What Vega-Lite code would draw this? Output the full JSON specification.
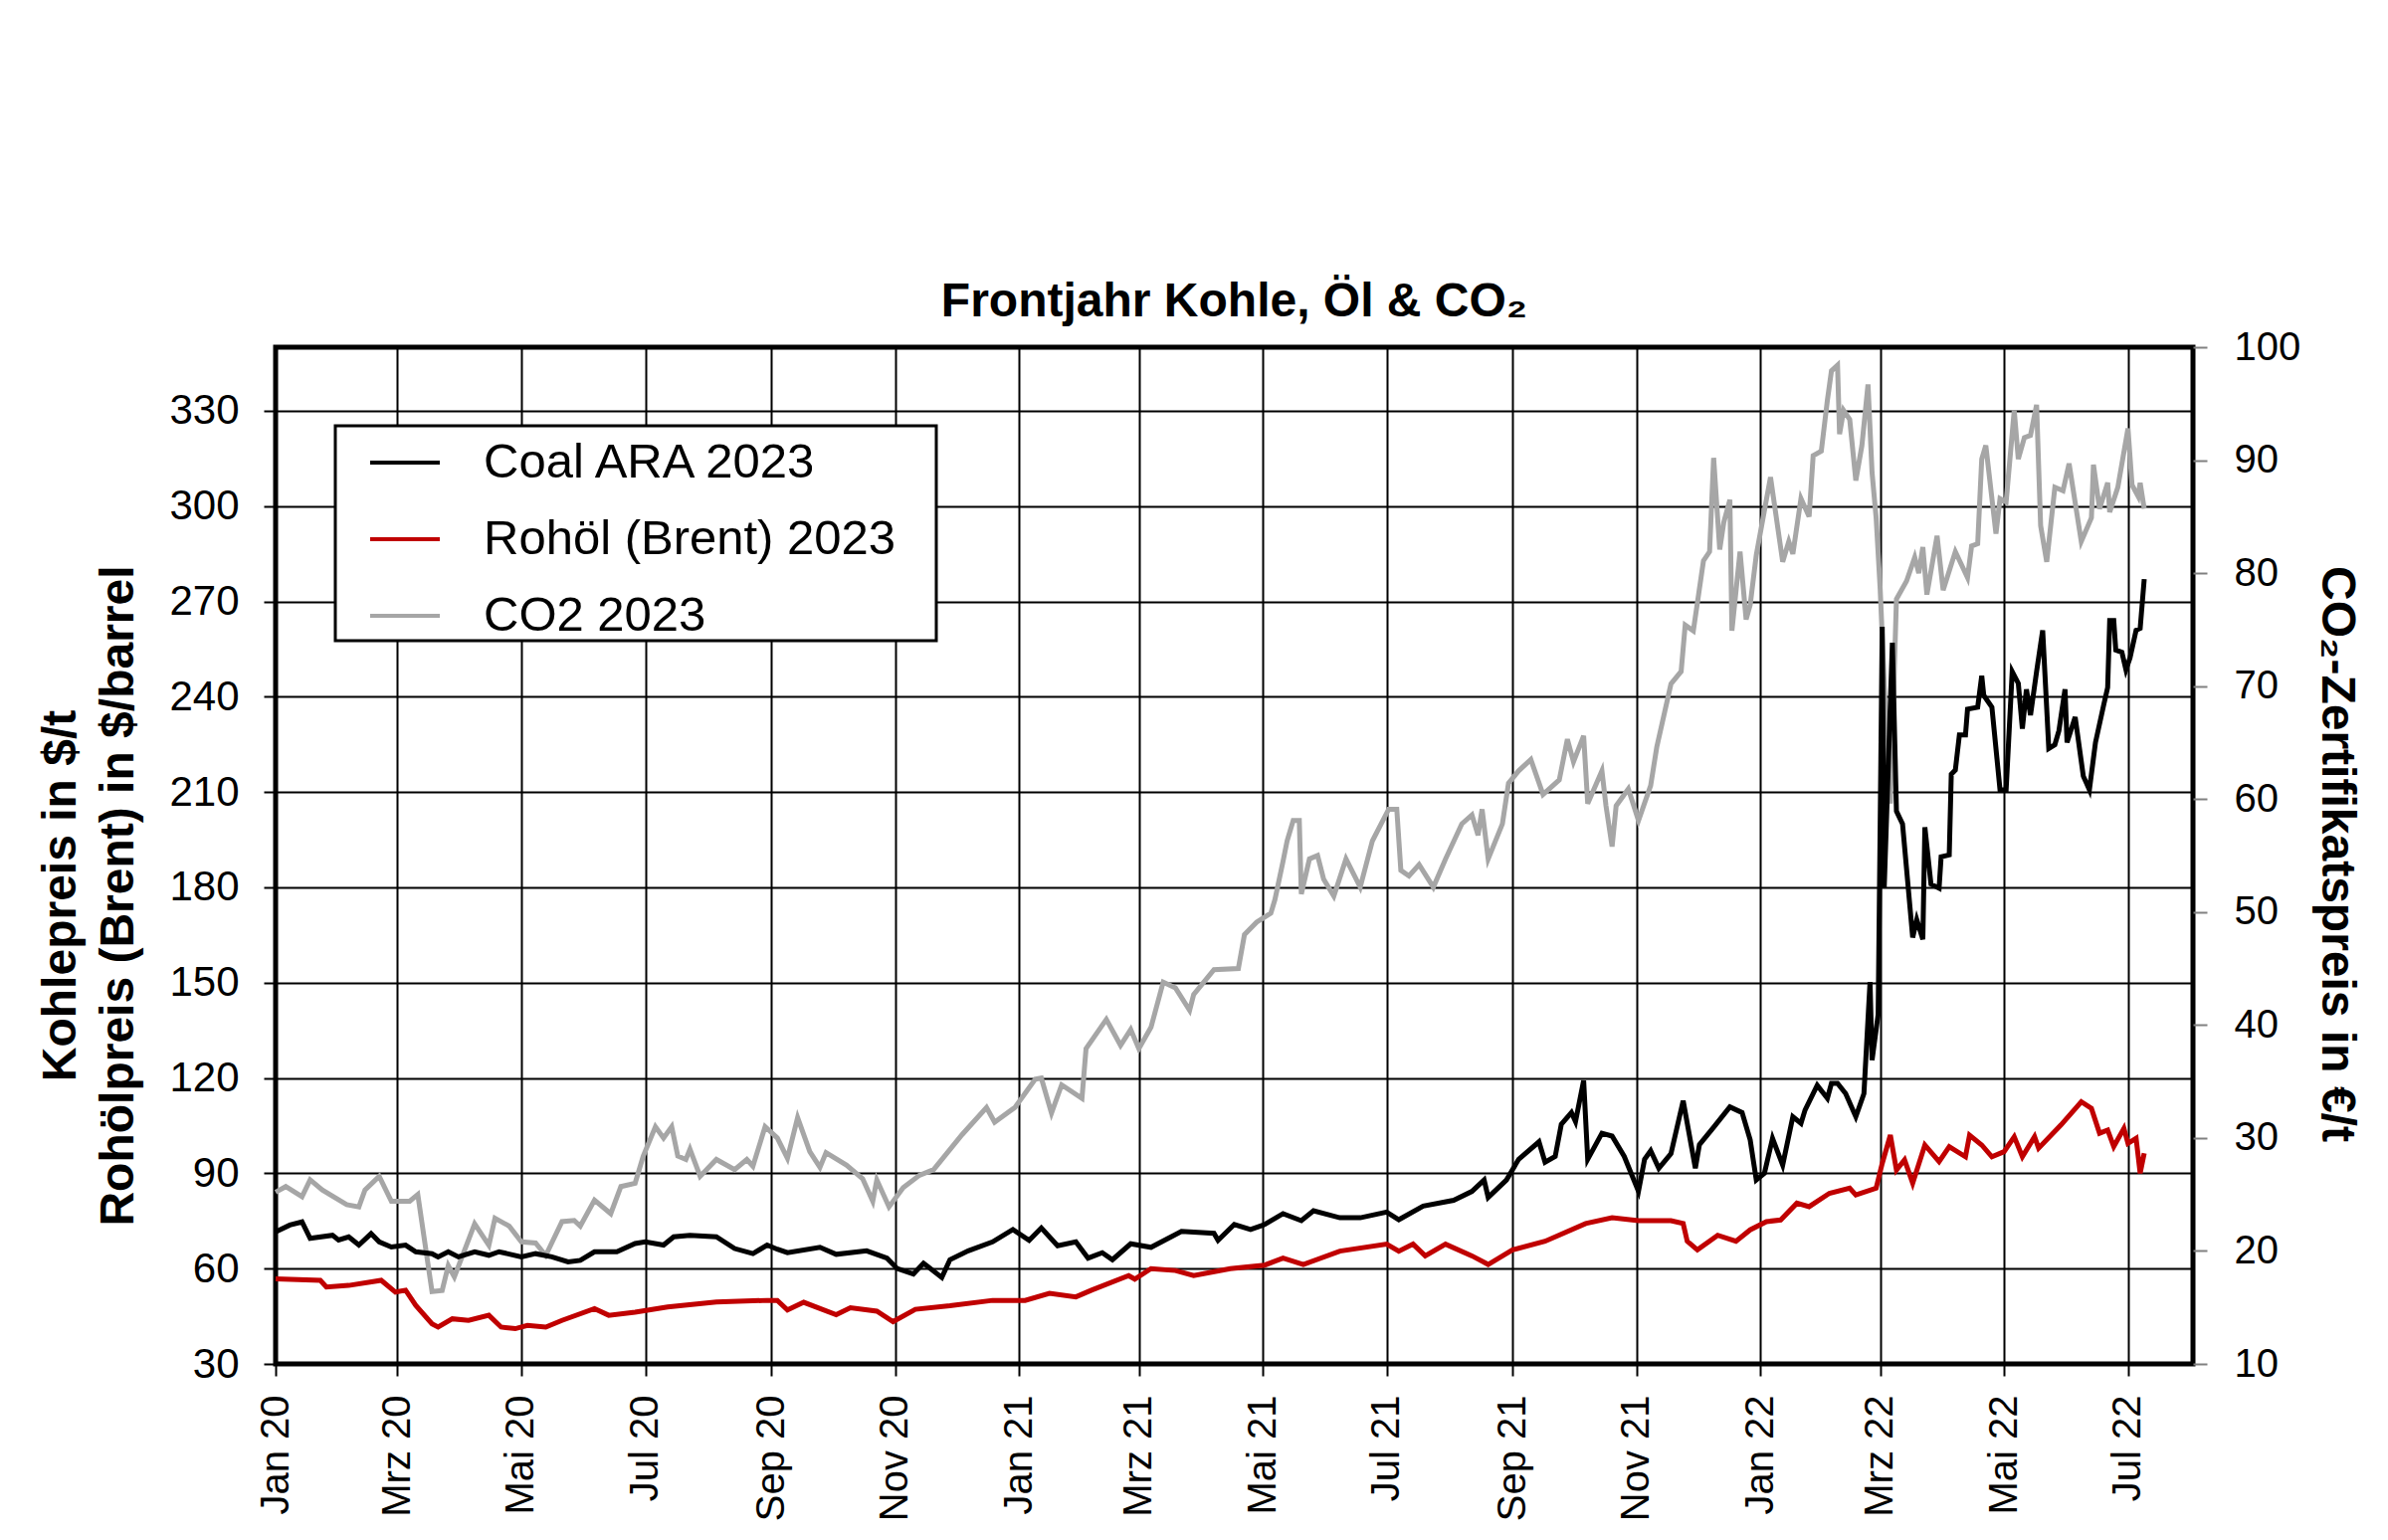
{
  "$schema": "https://vega.github.io/schema/vega-lite/v6.json",
  "width": 1927,
  "height": 1022,
  "autosize": {"type": "none"},
  "padding": {"left": 277, "top": 349, "right": 196, "bottom": 177},
  "background": "white",
  "title": {
    "text": "Frontjahr Kohle, Öl & CO₂",
    "fontSize": 48,
    "fontWeight": "bold",
    "font": "Liberation Sans",
    "color": "black",
    "anchor": "middle",
    "baseline": "alphabetic",
    "offset": 12,
    "dy": 49
  },
  "data": {
    "values": [
      {"d": "2020-01-01", "s": "Coal ARA 2023", "v": 71.6},
      {"d": "2020-01-08", "s": "Coal ARA 2023", "v": 73.7},
      {"d": "2020-01-14", "s": "Coal ARA 2023", "v": 74.7},
      {"d": "2020-01-18", "s": "Coal ARA 2023", "v": 69.5},
      {"d": "2020-01-29", "s": "Coal ARA 2023", "v": 70.5},
      {"d": "2020-02-01", "s": "Coal ARA 2023", "v": 69},
      {"d": "2020-02-06", "s": "Coal ARA 2023", "v": 70},
      {"d": "2020-02-11", "s": "Coal ARA 2023", "v": 67.4},
      {"d": "2020-02-17", "s": "Coal ARA 2023", "v": 71},
      {"d": "2020-02-21", "s": "Coal ARA 2023", "v": 68.4},
      {"d": "2020-02-27", "s": "Coal ARA 2023", "v": 66.8},
      {"d": "2020-03-05", "s": "Coal ARA 2023", "v": 67.4},
      {"d": "2020-03-10", "s": "Coal ARA 2023", "v": 65.3},
      {"d": "2020-03-18", "s": "Coal ARA 2023", "v": 64.7},
      {"d": "2020-03-21", "s": "Coal ARA 2023", "v": 63.7},
      {"d": "2020-03-26", "s": "Coal ARA 2023", "v": 65.3},
      {"d": "2020-03-31", "s": "Coal ARA 2023", "v": 63.7},
      {"d": "2020-04-08", "s": "Coal ARA 2023", "v": 65.3},
      {"d": "2020-04-15", "s": "Coal ARA 2023", "v": 64.2},
      {"d": "2020-04-20", "s": "Coal ARA 2023", "v": 65.3},
      {"d": "2020-05-01", "s": "Coal ARA 2023", "v": 63.7},
      {"d": "2020-05-08", "s": "Coal ARA 2023", "v": 64.7},
      {"d": "2020-05-16", "s": "Coal ARA 2023", "v": 63.7},
      {"d": "2020-05-24", "s": "Coal ARA 2023", "v": 62.1},
      {"d": "2020-05-30", "s": "Coal ARA 2023", "v": 62.6},
      {"d": "2020-06-06", "s": "Coal ARA 2023", "v": 65.3},
      {"d": "2020-06-17", "s": "Coal ARA 2023", "v": 65.3},
      {"d": "2020-06-26", "s": "Coal ARA 2023", "v": 67.9},
      {"d": "2020-07-01", "s": "Coal ARA 2023", "v": 68.4},
      {"d": "2020-07-10", "s": "Coal ARA 2023", "v": 67.4},
      {"d": "2020-07-15", "s": "Coal ARA 2023", "v": 70},
      {"d": "2020-07-23", "s": "Coal ARA 2023", "v": 70.5},
      {"d": "2020-08-05", "s": "Coal ARA 2023", "v": 70},
      {"d": "2020-08-14", "s": "Coal ARA 2023", "v": 66.3},
      {"d": "2020-08-23", "s": "Coal ARA 2023", "v": 64.7},
      {"d": "2020-08-30", "s": "Coal ARA 2023", "v": 67.4},
      {"d": "2020-09-04", "s": "Coal ARA 2023", "v": 66.1},
      {"d": "2020-09-09", "s": "Coal ARA 2023", "v": 65},
      {"d": "2020-09-25", "s": "Coal ARA 2023", "v": 66.7},
      {"d": "2020-10-03", "s": "Coal ARA 2023", "v": 64.5},
      {"d": "2020-10-18", "s": "Coal ARA 2023", "v": 65.6},
      {"d": "2020-10-28", "s": "Coal ARA 2023", "v": 63.3},
      {"d": "2020-11-02", "s": "Coal ARA 2023", "v": 60},
      {"d": "2020-11-10", "s": "Coal ARA 2023", "v": 58.3},
      {"d": "2020-11-15", "s": "Coal ARA 2023", "v": 61.7},
      {"d": "2020-11-24", "s": "Coal ARA 2023", "v": 57.2},
      {"d": "2020-11-28", "s": "Coal ARA 2023", "v": 62.8},
      {"d": "2020-12-07", "s": "Coal ARA 2023", "v": 65.6},
      {"d": "2020-12-19", "s": "Coal ARA 2023", "v": 68.4},
      {"d": "2020-12-29", "s": "Coal ARA 2023", "v": 72.3},
      {"d": "2021-01-06", "s": "Coal ARA 2023", "v": 68.9},
      {"d": "2021-01-12", "s": "Coal ARA 2023", "v": 72.8},
      {"d": "2021-01-20", "s": "Coal ARA 2023", "v": 67.2},
      {"d": "2021-01-29", "s": "Coal ARA 2023", "v": 68.4},
      {"d": "2021-02-04", "s": "Coal ARA 2023", "v": 63.3},
      {"d": "2021-02-11", "s": "Coal ARA 2023", "v": 65},
      {"d": "2021-02-16", "s": "Coal ARA 2023", "v": 62.8},
      {"d": "2021-02-25", "s": "Coal ARA 2023", "v": 67.8},
      {"d": "2021-03-07", "s": "Coal ARA 2023", "v": 66.7},
      {"d": "2021-03-22", "s": "Coal ARA 2023", "v": 71.7},
      {"d": "2021-04-07", "s": "Coal ARA 2023", "v": 71.1},
      {"d": "2021-04-09", "s": "Coal ARA 2023", "v": 68.9},
      {"d": "2021-04-17", "s": "Coal ARA 2023", "v": 73.9},
      {"d": "2021-04-25", "s": "Coal ARA 2023", "v": 72.3},
      {"d": "2021-05-02", "s": "Coal ARA 2023", "v": 73.9},
      {"d": "2021-05-11", "s": "Coal ARA 2023", "v": 77.3},
      {"d": "2021-05-20", "s": "Coal ARA 2023", "v": 75.1},
      {"d": "2021-05-26", "s": "Coal ARA 2023", "v": 78.2},
      {"d": "2021-06-08", "s": "Coal ARA 2023", "v": 76},
      {"d": "2021-06-18", "s": "Coal ARA 2023", "v": 76},
      {"d": "2021-07-01", "s": "Coal ARA 2023", "v": 77.8},
      {"d": "2021-07-07", "s": "Coal ARA 2023", "v": 75.4},
      {"d": "2021-07-19", "s": "Coal ARA 2023", "v": 79.7},
      {"d": "2021-08-03", "s": "Coal ARA 2023", "v": 81.5},
      {"d": "2021-08-12", "s": "Coal ARA 2023", "v": 84.3},
      {"d": "2021-08-18", "s": "Coal ARA 2023", "v": 87.9},
      {"d": "2021-08-20", "s": "Coal ARA 2023", "v": 82.4},
      {"d": "2021-08-29", "s": "Coal ARA 2023", "v": 87.9},
      {"d": "2021-09-04", "s": "Coal ARA 2023", "v": 94.4},
      {"d": "2021-09-14", "s": "Coal ARA 2023", "v": 99.9},
      {"d": "2021-09-17", "s": "Coal ARA 2023", "v": 93.5},
      {"d": "2021-09-22", "s": "Coal ARA 2023", "v": 95.3},
      {"d": "2021-09-25", "s": "Coal ARA 2023", "v": 105.4},
      {"d": "2021-09-30", "s": "Coal ARA 2023", "v": 109.1},
      {"d": "2021-10-02", "s": "Coal ARA 2023", "v": 106.3},
      {"d": "2021-10-06", "s": "Coal ARA 2023", "v": 119.2},
      {"d": "2021-10-08", "s": "Coal ARA 2023", "v": 94.4},
      {"d": "2021-10-15", "s": "Coal ARA 2023", "v": 102.6},
      {"d": "2021-10-20", "s": "Coal ARA 2023", "v": 101.7},
      {"d": "2021-10-26", "s": "Coal ARA 2023", "v": 95.3},
      {"d": "2021-11-02", "s": "Coal ARA 2023", "v": 84.3},
      {"d": "2021-11-05", "s": "Coal ARA 2023", "v": 94.4},
      {"d": "2021-11-08", "s": "Coal ARA 2023", "v": 97.1},
      {"d": "2021-11-12", "s": "Coal ARA 2023", "v": 91.6},
      {"d": "2021-11-18", "s": "Coal ARA 2023", "v": 96.2},
      {"d": "2021-11-24", "s": "Coal ARA 2023", "v": 112.8},
      {"d": "2021-11-30", "s": "Coal ARA 2023", "v": 91.6},
      {"d": "2021-12-02", "s": "Coal ARA 2023", "v": 99},
      {"d": "2021-12-09", "s": "Coal ARA 2023", "v": 104.5},
      {"d": "2021-12-17", "s": "Coal ARA 2023", "v": 110.9},
      {"d": "2021-12-23", "s": "Coal ARA 2023", "v": 109.1},
      {"d": "2021-12-27", "s": "Coal ARA 2023", "v": 100.5},
      {"d": "2021-12-30", "s": "Coal ARA 2023", "v": 87.9},
      {"d": "2022-01-03", "s": "Coal ARA 2023", "v": 90},
      {"d": "2022-01-07", "s": "Coal ARA 2023", "v": 101},
      {"d": "2022-01-12", "s": "Coal ARA 2023", "v": 92.6},
      {"d": "2022-01-17", "s": "Coal ARA 2023", "v": 107.8},
      {"d": "2022-01-21", "s": "Coal ARA 2023", "v": 105.7},
      {"d": "2022-01-23", "s": "Coal ARA 2023", "v": 109.9},
      {"d": "2022-01-29", "s": "Coal ARA 2023", "v": 117.7},
      {"d": "2022-02-03", "s": "Coal ARA 2023", "v": 113.6},
      {"d": "2022-02-05", "s": "Coal ARA 2023", "v": 118.3},
      {"d": "2022-02-08", "s": "Coal ARA 2023", "v": 118.3},
      {"d": "2022-02-12", "s": "Coal ARA 2023", "v": 115.1},
      {"d": "2022-02-17", "s": "Coal ARA 2023", "v": 107.8},
      {"d": "2022-02-21", "s": "Coal ARA 2023", "v": 115.1},
      {"d": "2022-02-24", "s": "Coal ARA 2023", "v": 150.2},
      {"d": "2022-02-25", "s": "Coal ARA 2023", "v": 125.6},
      {"d": "2022-02-28", "s": "Coal ARA 2023", "v": 140},
      {"d": "2022-03-01", "s": "Coal ARA 2023", "v": 200},
      {"d": "2022-03-02", "s": "Coal ARA 2023", "v": 262},
      {"d": "2022-03-03", "s": "Coal ARA 2023", "v": 180},
      {"d": "2022-03-07", "s": "Coal ARA 2023", "v": 257},
      {"d": "2022-03-09", "s": "Coal ARA 2023", "v": 204},
      {"d": "2022-03-12", "s": "Coal ARA 2023", "v": 200},
      {"d": "2022-03-17", "s": "Coal ARA 2023", "v": 164.2},
      {"d": "2022-03-19", "s": "Coal ARA 2023", "v": 169.8},
      {"d": "2022-03-22", "s": "Coal ARA 2023", "v": 163.6},
      {"d": "2022-03-23", "s": "Coal ARA 2023", "v": 198.9},
      {"d": "2022-03-26", "s": "Coal ARA 2023", "v": 181},
      {"d": "2022-03-30", "s": "Coal ARA 2023", "v": 179.7},
      {"d": "2022-03-31", "s": "Coal ARA 2023", "v": 189.6},
      {"d": "2022-04-04", "s": "Coal ARA 2023", "v": 190.2},
      {"d": "2022-04-05", "s": "Coal ARA 2023", "v": 215.6},
      {"d": "2022-04-07", "s": "Coal ARA 2023", "v": 216.9},
      {"d": "2022-04-09", "s": "Coal ARA 2023", "v": 228},
      {"d": "2022-04-12", "s": "Coal ARA 2023", "v": 228},
      {"d": "2022-04-13", "s": "Coal ARA 2023", "v": 236.1},
      {"d": "2022-04-18", "s": "Coal ARA 2023", "v": 236.7},
      {"d": "2022-04-20", "s": "Coal ARA 2023", "v": 246.6},
      {"d": "2022-04-21", "s": "Coal ARA 2023", "v": 240.4},
      {"d": "2022-04-25", "s": "Coal ARA 2023", "v": 236.7},
      {"d": "2022-04-29", "s": "Coal ARA 2023", "v": 210.7},
      {"d": "2022-05-02", "s": "Coal ARA 2023", "v": 210.7},
      {"d": "2022-05-05", "s": "Coal ARA 2023", "v": 247.9},
      {"d": "2022-05-08", "s": "Coal ARA 2023", "v": 244.2},
      {"d": "2022-05-10", "s": "Coal ARA 2023", "v": 229.9},
      {"d": "2022-05-12", "s": "Coal ARA 2023", "v": 242.3},
      {"d": "2022-05-14", "s": "Coal ARA 2023", "v": 234.2},
      {"d": "2022-05-17", "s": "Coal ARA 2023", "v": 247.9},
      {"d": "2022-05-20", "s": "Coal ARA 2023", "v": 260.9},
      {"d": "2022-05-23", "s": "Coal ARA 2023", "v": 223.7},
      {"d": "2022-05-26", "s": "Coal ARA 2023", "v": 224.9},
      {"d": "2022-05-28", "s": "Coal ARA 2023", "v": 229.3},
      {"d": "2022-05-31", "s": "Coal ARA 2023", "v": 242.3},
      {"d": "2022-06-01", "s": "Coal ARA 2023", "v": 225.6},
      {"d": "2022-06-05", "s": "Coal ARA 2023", "v": 233.6},
      {"d": "2022-06-09", "s": "Coal ARA 2023", "v": 215},
      {"d": "2022-06-12", "s": "Coal ARA 2023", "v": 210.7},
      {"d": "2022-06-15", "s": "Coal ARA 2023", "v": 225.6},
      {"d": "2022-06-19", "s": "Coal ARA 2023", "v": 237.3},
      {"d": "2022-06-21", "s": "Coal ARA 2023", "v": 242.9},
      {"d": "2022-06-22", "s": "Coal ARA 2023", "v": 264},
      {"d": "2022-06-24", "s": "Coal ARA 2023", "v": 264},
      {"d": "2022-06-25", "s": "Coal ARA 2023", "v": 254.7},
      {"d": "2022-06-28", "s": "Coal ARA 2023", "v": 254},
      {"d": "2022-06-30", "s": "Coal ARA 2023", "v": 248.5},
      {"d": "2022-07-02", "s": "Coal ARA 2023", "v": 252.2},
      {"d": "2022-07-05", "s": "Coal ARA 2023", "v": 260.9},
      {"d": "2022-07-07", "s": "Coal ARA 2023", "v": 261.5},
      {"d": "2022-07-09", "s": "Coal ARA 2023", "v": 277},

      {"d": "2020-01-01", "s": "Rohöl (Brent) 2023", "v": 56.8},
      {"d": "2020-01-23", "s": "Rohöl (Brent) 2023", "v": 56.3},
      {"d": "2020-01-26", "s": "Rohöl (Brent) 2023", "v": 54.2},
      {"d": "2020-02-06", "s": "Rohöl (Brent) 2023", "v": 54.7},
      {"d": "2020-02-22", "s": "Rohöl (Brent) 2023", "v": 56.3},
      {"d": "2020-02-29", "s": "Rohöl (Brent) 2023", "v": 52.6},
      {"d": "2020-03-05", "s": "Rohöl (Brent) 2023", "v": 53.2},
      {"d": "2020-03-10", "s": "Rohöl (Brent) 2023", "v": 48.4},
      {"d": "2020-03-18", "s": "Rohöl (Brent) 2023", "v": 42.6},
      {"d": "2020-03-21", "s": "Rohöl (Brent) 2023", "v": 41.6},
      {"d": "2020-03-28", "s": "Rohöl (Brent) 2023", "v": 44.2},
      {"d": "2020-04-05", "s": "Rohöl (Brent) 2023", "v": 43.7},
      {"d": "2020-04-15", "s": "Rohöl (Brent) 2023", "v": 45.3},
      {"d": "2020-04-21", "s": "Rohöl (Brent) 2023", "v": 41.6},
      {"d": "2020-04-28", "s": "Rohöl (Brent) 2023", "v": 41.1},
      {"d": "2020-05-04", "s": "Rohöl (Brent) 2023", "v": 42.1},
      {"d": "2020-05-13", "s": "Rohöl (Brent) 2023", "v": 41.6},
      {"d": "2020-05-21", "s": "Rohöl (Brent) 2023", "v": 43.7},
      {"d": "2020-06-06", "s": "Rohöl (Brent) 2023", "v": 47.4},
      {"d": "2020-06-13", "s": "Rohöl (Brent) 2023", "v": 45.3},
      {"d": "2020-06-26", "s": "Rohöl (Brent) 2023", "v": 46.3},
      {"d": "2020-07-12", "s": "Rohöl (Brent) 2023", "v": 47.9},
      {"d": "2020-08-05", "s": "Rohöl (Brent) 2023", "v": 49.5},
      {"d": "2020-08-30", "s": "Rohöl (Brent) 2023", "v": 50},
      {"d": "2020-09-04", "s": "Rohöl (Brent) 2023", "v": 50},
      {"d": "2020-09-09", "s": "Rohöl (Brent) 2023", "v": 47},
      {"d": "2020-09-17", "s": "Rohöl (Brent) 2023", "v": 49.4},
      {"d": "2020-10-03", "s": "Rohöl (Brent) 2023", "v": 45.5},
      {"d": "2020-10-10", "s": "Rohöl (Brent) 2023", "v": 47.7},
      {"d": "2020-10-23", "s": "Rohöl (Brent) 2023", "v": 46.6},
      {"d": "2020-10-31", "s": "Rohöl (Brent) 2023", "v": 43.3},
      {"d": "2020-11-11", "s": "Rohöl (Brent) 2023", "v": 47.2},
      {"d": "2020-11-28", "s": "Rohöl (Brent) 2023", "v": 48.3},
      {"d": "2020-12-19", "s": "Rohöl (Brent) 2023", "v": 50},
      {"d": "2021-01-04", "s": "Rohöl (Brent) 2023", "v": 50},
      {"d": "2021-01-16", "s": "Rohöl (Brent) 2023", "v": 52.2},
      {"d": "2021-01-29", "s": "Rohöl (Brent) 2023", "v": 51.1},
      {"d": "2021-02-06", "s": "Rohöl (Brent) 2023", "v": 53.3},
      {"d": "2021-02-24", "s": "Rohöl (Brent) 2023", "v": 57.8},
      {"d": "2021-02-27", "s": "Rohöl (Brent) 2023", "v": 56.7},
      {"d": "2021-03-07", "s": "Rohöl (Brent) 2023", "v": 60},
      {"d": "2021-03-19", "s": "Rohöl (Brent) 2023", "v": 59.4},
      {"d": "2021-03-28", "s": "Rohöl (Brent) 2023", "v": 57.8},
      {"d": "2021-04-15", "s": "Rohöl (Brent) 2023", "v": 60},
      {"d": "2021-05-02", "s": "Rohöl (Brent) 2023", "v": 61.1},
      {"d": "2021-05-11", "s": "Rohöl (Brent) 2023", "v": 63.3},
      {"d": "2021-05-21", "s": "Rohöl (Brent) 2023", "v": 61.3},
      {"d": "2021-06-08", "s": "Rohöl (Brent) 2023", "v": 65.5},
      {"d": "2021-07-01", "s": "Rohöl (Brent) 2023", "v": 67.7},
      {"d": "2021-07-07", "s": "Rohöl (Brent) 2023", "v": 65.5},
      {"d": "2021-07-14", "s": "Rohöl (Brent) 2023", "v": 67.7},
      {"d": "2021-07-20", "s": "Rohöl (Brent) 2023", "v": 64},
      {"d": "2021-07-30", "s": "Rohöl (Brent) 2023", "v": 67.7},
      {"d": "2021-08-12", "s": "Rohöl (Brent) 2023", "v": 64},
      {"d": "2021-08-20", "s": "Rohöl (Brent) 2023", "v": 61.3},
      {"d": "2021-09-01", "s": "Rohöl (Brent) 2023", "v": 65.9},
      {"d": "2021-09-17", "s": "Rohöl (Brent) 2023", "v": 68.6},
      {"d": "2021-10-07", "s": "Rohöl (Brent) 2023", "v": 74.2},
      {"d": "2021-10-20", "s": "Rohöl (Brent) 2023", "v": 76},
      {"d": "2021-11-02", "s": "Rohöl (Brent) 2023", "v": 75.1},
      {"d": "2021-11-18", "s": "Rohöl (Brent) 2023", "v": 75.1},
      {"d": "2021-11-24", "s": "Rohöl (Brent) 2023", "v": 74.2},
      {"d": "2021-11-26", "s": "Rohöl (Brent) 2023", "v": 68.6},
      {"d": "2021-12-01", "s": "Rohöl (Brent) 2023", "v": 65.9},
      {"d": "2021-12-11", "s": "Rohöl (Brent) 2023", "v": 70.5},
      {"d": "2021-12-20", "s": "Rohöl (Brent) 2023", "v": 68.6},
      {"d": "2021-12-27", "s": "Rohöl (Brent) 2023", "v": 72.2},
      {"d": "2022-01-04", "s": "Rohöl (Brent) 2023", "v": 74.8},
      {"d": "2022-01-11", "s": "Rohöl (Brent) 2023", "v": 75.3},
      {"d": "2022-01-19", "s": "Rohöl (Brent) 2023", "v": 80.6},
      {"d": "2022-01-25", "s": "Rohöl (Brent) 2023", "v": 79.5},
      {"d": "2022-02-04", "s": "Rohöl (Brent) 2023", "v": 83.7},
      {"d": "2022-02-14", "s": "Rohöl (Brent) 2023", "v": 85.3},
      {"d": "2022-02-17", "s": "Rohöl (Brent) 2023", "v": 83.2},
      {"d": "2022-02-27", "s": "Rohöl (Brent) 2023", "v": 85.3},
      {"d": "2022-03-02", "s": "Rohöl (Brent) 2023", "v": 93.1},
      {"d": "2022-03-06", "s": "Rohöl (Brent) 2023", "v": 102},
      {"d": "2022-03-09", "s": "Rohöl (Brent) 2023", "v": 91},
      {"d": "2022-03-13", "s": "Rohöl (Brent) 2023", "v": 94.2},
      {"d": "2022-03-17", "s": "Rohöl (Brent) 2023", "v": 86.9},
      {"d": "2022-03-23", "s": "Rohöl (Brent) 2023", "v": 98.9},
      {"d": "2022-03-30", "s": "Rohöl (Brent) 2023", "v": 93.7},
      {"d": "2022-04-04", "s": "Rohöl (Brent) 2023", "v": 98.4},
      {"d": "2022-04-12", "s": "Rohöl (Brent) 2023", "v": 95.2},
      {"d": "2022-04-14", "s": "Rohöl (Brent) 2023", "v": 102},
      {"d": "2022-04-20", "s": "Rohöl (Brent) 2023", "v": 98.9},
      {"d": "2022-04-25", "s": "Rohöl (Brent) 2023", "v": 95.2},
      {"d": "2022-05-01", "s": "Rohöl (Brent) 2023", "v": 96.8},
      {"d": "2022-05-06", "s": "Rohöl (Brent) 2023", "v": 101.5},
      {"d": "2022-05-10", "s": "Rohöl (Brent) 2023", "v": 95.2},
      {"d": "2022-05-16", "s": "Rohöl (Brent) 2023", "v": 101.5},
      {"d": "2022-05-18", "s": "Rohöl (Brent) 2023", "v": 97.9},
      {"d": "2022-05-29", "s": "Rohöl (Brent) 2023", "v": 105.2},
      {"d": "2022-06-08", "s": "Rohöl (Brent) 2023", "v": 112.5},
      {"d": "2022-06-13", "s": "Rohöl (Brent) 2023", "v": 110.4},
      {"d": "2022-06-17", "s": "Rohöl (Brent) 2023", "v": 102.6},
      {"d": "2022-06-21", "s": "Rohöl (Brent) 2023", "v": 103.6},
      {"d": "2022-06-24", "s": "Rohöl (Brent) 2023", "v": 98.4},
      {"d": "2022-06-29", "s": "Rohöl (Brent) 2023", "v": 104.1},
      {"d": "2022-07-01", "s": "Rohöl (Brent) 2023", "v": 99.4},
      {"d": "2022-07-05", "s": "Rohöl (Brent) 2023", "v": 101},
      {"d": "2022-07-07", "s": "Rohöl (Brent) 2023", "v": 90},
      {"d": "2022-07-09", "s": "Rohöl (Brent) 2023", "v": 96.3},

      {"d": "2020-01-01", "s": "CO2 2023", "v": 25.2},
      {"d": "2020-01-06", "s": "CO2 2023", "v": 25.7},
      {"d": "2020-01-14", "s": "CO2 2023", "v": 24.8},
      {"d": "2020-01-18", "s": "CO2 2023", "v": 26.3},
      {"d": "2020-01-24", "s": "CO2 2023", "v": 25.4},
      {"d": "2020-02-05", "s": "CO2 2023", "v": 24.1},
      {"d": "2020-02-11", "s": "CO2 2023", "v": 23.9},
      {"d": "2020-02-14", "s": "CO2 2023", "v": 25.4},
      {"d": "2020-02-21", "s": "CO2 2023", "v": 26.6},
      {"d": "2020-02-27", "s": "CO2 2023", "v": 24.4},
      {"d": "2020-03-07", "s": "CO2 2023", "v": 24.4},
      {"d": "2020-03-11", "s": "CO2 2023", "v": 25.0},
      {"d": "2020-03-18", "s": "CO2 2023", "v": 16.4},
      {"d": "2020-03-23", "s": "CO2 2023", "v": 16.5},
      {"d": "2020-03-26", "s": "CO2 2023", "v": 18.7},
      {"d": "2020-03-29", "s": "CO2 2023", "v": 17.7},
      {"d": "2020-04-08", "s": "CO2 2023", "v": 22.4},
      {"d": "2020-04-15", "s": "CO2 2023", "v": 20.5},
      {"d": "2020-04-18", "s": "CO2 2023", "v": 22.9},
      {"d": "2020-04-25", "s": "CO2 2023", "v": 22.2},
      {"d": "2020-05-01", "s": "CO2 2023", "v": 20.8},
      {"d": "2020-05-08", "s": "CO2 2023", "v": 20.7},
      {"d": "2020-05-13", "s": "CO2 2023", "v": 19.6},
      {"d": "2020-05-21", "s": "CO2 2023", "v": 22.6},
      {"d": "2020-05-27", "s": "CO2 2023", "v": 22.7},
      {"d": "2020-05-30", "s": "CO2 2023", "v": 22.2},
      {"d": "2020-06-06", "s": "CO2 2023", "v": 24.5},
      {"d": "2020-06-14", "s": "CO2 2023", "v": 23.3},
      {"d": "2020-06-19", "s": "CO2 2023", "v": 25.7},
      {"d": "2020-06-26", "s": "CO2 2023", "v": 26.0},
      {"d": "2020-06-30", "s": "CO2 2023", "v": 28.4},
      {"d": "2020-07-06", "s": "CO2 2023", "v": 31.0},
      {"d": "2020-07-10", "s": "CO2 2023", "v": 30.0},
      {"d": "2020-07-14", "s": "CO2 2023", "v": 31.0},
      {"d": "2020-07-17", "s": "CO2 2023", "v": 28.4},
      {"d": "2020-07-21", "s": "CO2 2023", "v": 28.1},
      {"d": "2020-07-23", "s": "CO2 2023", "v": 29.0},
      {"d": "2020-07-28", "s": "CO2 2023", "v": 26.6},
      {"d": "2020-08-05", "s": "CO2 2023", "v": 28.1},
      {"d": "2020-08-14", "s": "CO2 2023", "v": 27.2},
      {"d": "2020-08-20", "s": "CO2 2023", "v": 28.1},
      {"d": "2020-08-23", "s": "CO2 2023", "v": 27.5},
      {"d": "2020-08-29", "s": "CO2 2023", "v": 31.0},
      {"d": "2020-09-04", "s": "CO2 2023", "v": 30.0},
      {"d": "2020-09-09", "s": "CO2 2023", "v": 28.2},
      {"d": "2020-09-14", "s": "CO2 2023", "v": 31.8},
      {"d": "2020-09-20", "s": "CO2 2023", "v": 28.8},
      {"d": "2020-09-25", "s": "CO2 2023", "v": 27.4},
      {"d": "2020-09-28", "s": "CO2 2023", "v": 28.7},
      {"d": "2020-10-08", "s": "CO2 2023", "v": 27.6},
      {"d": "2020-10-16", "s": "CO2 2023", "v": 26.4},
      {"d": "2020-10-21", "s": "CO2 2023", "v": 24.4},
      {"d": "2020-10-23", "s": "CO2 2023", "v": 26.3},
      {"d": "2020-10-29", "s": "CO2 2023", "v": 23.9},
      {"d": "2020-11-05", "s": "CO2 2023", "v": 25.6},
      {"d": "2020-11-13", "s": "CO2 2023", "v": 26.7},
      {"d": "2020-11-20", "s": "CO2 2023", "v": 27.2},
      {"d": "2020-12-04", "s": "CO2 2023", "v": 30.3},
      {"d": "2020-12-16", "s": "CO2 2023", "v": 32.7},
      {"d": "2020-12-20", "s": "CO2 2023", "v": 31.4},
      {"d": "2020-12-30", "s": "CO2 2023", "v": 32.7},
      {"d": "2021-01-09", "s": "CO2 2023", "v": 35.2},
      {"d": "2021-01-12", "s": "CO2 2023", "v": 35.3},
      {"d": "2021-01-17", "s": "CO2 2023", "v": 32.2},
      {"d": "2021-01-22", "s": "CO2 2023", "v": 34.7},
      {"d": "2021-02-01", "s": "CO2 2023", "v": 33.5},
      {"d": "2021-02-03", "s": "CO2 2023", "v": 37.9},
      {"d": "2021-02-13", "s": "CO2 2023", "v": 40.5},
      {"d": "2021-02-20", "s": "CO2 2023", "v": 38.2},
      {"d": "2021-02-25", "s": "CO2 2023", "v": 39.6},
      {"d": "2021-03-01", "s": "CO2 2023", "v": 37.9},
      {"d": "2021-03-07", "s": "CO2 2023", "v": 39.8},
      {"d": "2021-03-13", "s": "CO2 2023", "v": 43.8},
      {"d": "2021-03-19", "s": "CO2 2023", "v": 43.3},
      {"d": "2021-03-26", "s": "CO2 2023", "v": 41.3},
      {"d": "2021-03-28", "s": "CO2 2023", "v": 42.7},
      {"d": "2021-04-07", "s": "CO2 2023", "v": 44.9},
      {"d": "2021-04-19", "s": "CO2 2023", "v": 45.0},
      {"d": "2021-04-22", "s": "CO2 2023", "v": 48.0},
      {"d": "2021-04-28", "s": "CO2 2023", "v": 49.1},
      {"d": "2021-05-05", "s": "CO2 2023", "v": 49.9},
      {"d": "2021-05-07", "s": "CO2 2023", "v": 51.1},
      {"d": "2021-05-11", "s": "CO2 2023", "v": 54.5},
      {"d": "2021-05-13", "s": "CO2 2023", "v": 56.3},
      {"d": "2021-05-16", "s": "CO2 2023", "v": 58.1},
      {"d": "2021-05-19", "s": "CO2 2023", "v": 58.1},
      {"d": "2021-05-20", "s": "CO2 2023", "v": 51.6},
      {"d": "2021-05-24", "s": "CO2 2023", "v": 54.7},
      {"d": "2021-05-28", "s": "CO2 2023", "v": 55.0},
      {"d": "2021-05-31", "s": "CO2 2023", "v": 52.9},
      {"d": "2021-06-05", "s": "CO2 2023", "v": 51.4},
      {"d": "2021-06-11", "s": "CO2 2023", "v": 54.7},
      {"d": "2021-06-18", "s": "CO2 2023", "v": 52.2},
      {"d": "2021-06-24", "s": "CO2 2023", "v": 56.3},
      {"d": "2021-07-02", "s": "CO2 2023", "v": 59.1},
      {"d": "2021-07-06", "s": "CO2 2023", "v": 59.1},
      {"d": "2021-07-08", "s": "CO2 2023", "v": 53.7},
      {"d": "2021-07-12", "s": "CO2 2023", "v": 53.2},
      {"d": "2021-07-17", "s": "CO2 2023", "v": 54.2},
      {"d": "2021-07-24", "s": "CO2 2023", "v": 52.2},
      {"d": "2021-07-30", "s": "CO2 2023", "v": 54.7},
      {"d": "2021-08-07", "s": "CO2 2023", "v": 57.8},
      {"d": "2021-08-12", "s": "CO2 2023", "v": 58.6},
      {"d": "2021-08-15", "s": "CO2 2023", "v": 56.8},
      {"d": "2021-08-17", "s": "CO2 2023", "v": 59.1},
      {"d": "2021-08-20", "s": "CO2 2023", "v": 54.7},
      {"d": "2021-08-27", "s": "CO2 2023", "v": 57.8},
      {"d": "2021-08-30", "s": "CO2 2023", "v": 61.4},
      {"d": "2021-09-04", "s": "CO2 2023", "v": 62.5},
      {"d": "2021-09-10", "s": "CO2 2023", "v": 63.5},
      {"d": "2021-09-16", "s": "CO2 2023", "v": 60.4},
      {"d": "2021-09-24", "s": "CO2 2023", "v": 61.7},
      {"d": "2021-09-28", "s": "CO2 2023", "v": 65.3},
      {"d": "2021-10-01", "s": "CO2 2023", "v": 63.3},
      {"d": "2021-10-06", "s": "CO2 2023", "v": 65.6},
      {"d": "2021-10-08", "s": "CO2 2023", "v": 59.6},
      {"d": "2021-10-15", "s": "CO2 2023", "v": 62.5},
      {"d": "2021-10-17", "s": "CO2 2023", "v": 59.4},
      {"d": "2021-10-20", "s": "CO2 2023", "v": 55.8},
      {"d": "2021-10-22", "s": "CO2 2023", "v": 59.4},
      {"d": "2021-10-28", "s": "CO2 2023", "v": 60.9},
      {"d": "2021-11-02", "s": "CO2 2023", "v": 58.1},
      {"d": "2021-11-08", "s": "CO2 2023", "v": 61.2},
      {"d": "2021-11-11", "s": "CO2 2023", "v": 64.6},
      {"d": "2021-11-18", "s": "CO2 2023", "v": 70.2},
      {"d": "2021-11-23", "s": "CO2 2023", "v": 71.3},
      {"d": "2021-11-25", "s": "CO2 2023", "v": 75.4},
      {"d": "2021-11-29", "s": "CO2 2023", "v": 74.9},
      {"d": "2021-12-04", "s": "CO2 2023", "v": 81.1},
      {"d": "2021-12-07", "s": "CO2 2023", "v": 81.9},
      {"d": "2021-12-09", "s": "CO2 2023", "v": 90.2},
      {"d": "2021-12-12", "s": "CO2 2023", "v": 82.1},
      {"d": "2021-12-14", "s": "CO2 2023", "v": 84.5},
      {"d": "2021-12-17", "s": "CO2 2023", "v": 86.5},
      {"d": "2021-12-18", "s": "CO2 2023", "v": 74.9},
      {"d": "2021-12-22", "s": "CO2 2023", "v": 81.9},
      {"d": "2021-12-25", "s": "CO2 2023", "v": 75.9},
      {"d": "2021-12-27", "s": "CO2 2023", "v": 77.2},
      {"d": "2021-12-30", "s": "CO2 2023", "v": 81.6},
      {"d": "2022-01-06", "s": "CO2 2023", "v": 88.5},
      {"d": "2022-01-12", "s": "CO2 2023", "v": 81.0},
      {"d": "2022-01-15", "s": "CO2 2023", "v": 82.8},
      {"d": "2022-01-17", "s": "CO2 2023", "v": 81.7},
      {"d": "2022-01-21", "s": "CO2 2023", "v": 86.6},
      {"d": "2022-01-25", "s": "CO2 2023", "v": 85.0},
      {"d": "2022-01-27", "s": "CO2 2023", "v": 90.4},
      {"d": "2022-01-31", "s": "CO2 2023", "v": 90.8},
      {"d": "2022-02-03", "s": "CO2 2023", "v": 95.3},
      {"d": "2022-02-05", "s": "CO2 2023", "v": 97.9},
      {"d": "2022-02-08", "s": "CO2 2023", "v": 98.4},
      {"d": "2022-02-09", "s": "CO2 2023", "v": 92.3},
      {"d": "2022-02-11", "s": "CO2 2023", "v": 94.4},
      {"d": "2022-02-14", "s": "CO2 2023", "v": 93.6},
      {"d": "2022-02-17", "s": "CO2 2023", "v": 88.2},
      {"d": "2022-02-20", "s": "CO2 2023", "v": 91.3},
      {"d": "2022-02-23", "s": "CO2 2023", "v": 96.7},
      {"d": "2022-02-25", "s": "CO2 2023", "v": 88.9},
      {"d": "2022-02-27", "s": "CO2 2023", "v": 84.9},
      {"d": "2022-03-01", "s": "CO2 2023", "v": 78.6},
      {"d": "2022-03-04", "s": "CO2 2023", "v": 66},
      {"d": "2022-03-06", "s": "CO2 2023", "v": 59.6},
      {"d": "2022-03-09", "s": "CO2 2023", "v": 77.7},
      {"d": "2022-03-14", "s": "CO2 2023", "v": 79.3},
      {"d": "2022-03-18", "s": "CO2 2023", "v": 81.4},
      {"d": "2022-03-20", "s": "CO2 2023", "v": 80.0},
      {"d": "2022-03-22", "s": "CO2 2023", "v": 82.3},
      {"d": "2022-03-24", "s": "CO2 2023", "v": 78.1},
      {"d": "2022-03-29", "s": "CO2 2023", "v": 83.3},
      {"d": "2022-04-01", "s": "CO2 2023", "v": 78.5},
      {"d": "2022-04-07", "s": "CO2 2023", "v": 81.9},
      {"d": "2022-04-13", "s": "CO2 2023", "v": 79.6},
      {"d": "2022-04-15", "s": "CO2 2023", "v": 82.4},
      {"d": "2022-04-18", "s": "CO2 2023", "v": 82.6},
      {"d": "2022-04-20", "s": "CO2 2023", "v": 90.1},
      {"d": "2022-04-22", "s": "CO2 2023", "v": 91.3},
      {"d": "2022-04-27", "s": "CO2 2023", "v": 83.5},
      {"d": "2022-04-29", "s": "CO2 2023", "v": 86.6},
      {"d": "2022-05-02", "s": "CO2 2023", "v": 86.3},
      {"d": "2022-05-06", "s": "CO2 2023", "v": 94.4},
      {"d": "2022-05-08", "s": "CO2 2023", "v": 90.1},
      {"d": "2022-05-11", "s": "CO2 2023", "v": 92.0},
      {"d": "2022-05-14", "s": "CO2 2023", "v": 92.2},
      {"d": "2022-05-17", "s": "CO2 2023", "v": 94.9},
      {"d": "2022-05-19", "s": "CO2 2023", "v": 84.2},
      {"d": "2022-05-22", "s": "CO2 2023", "v": 81.0},
      {"d": "2022-05-26", "s": "CO2 2023", "v": 87.6},
      {"d": "2022-05-30", "s": "CO2 2023", "v": 87.3},
      {"d": "2022-06-02", "s": "CO2 2023", "v": 89.7},
      {"d": "2022-06-08", "s": "CO2 2023", "v": 82.8},
      {"d": "2022-06-13", "s": "CO2 2023", "v": 84.9},
      {"d": "2022-06-14", "s": "CO2 2023", "v": 89.6},
      {"d": "2022-06-17", "s": "CO2 2023", "v": 85.7},
      {"d": "2022-06-21", "s": "CO2 2023", "v": 88.0},
      {"d": "2022-06-22", "s": "CO2 2023", "v": 85.4},
      {"d": "2022-06-26", "s": "CO2 2023", "v": 87.6},
      {"d": "2022-07-01", "s": "CO2 2023", "v": 92.8},
      {"d": "2022-07-03", "s": "CO2 2023", "v": 87.8},
      {"d": "2022-07-06", "s": "CO2 2023", "v": 86.8},
      {"d": "2022-07-07", "s": "CO2 2023", "v": 88.0},
      {"d": "2022-07-09", "s": "CO2 2023", "v": 85.7}
    ]
  },
  "encoding": {
    "x": {
      "field": "d",
      "type": "temporal",
      "scale": {
        "type": "utc",
        "domain": [
          {"year": 2020, "month": 1, "date": 1, "utc": true},
          {"year": 2022, "month": 8, "date": 2, "utc": true}
        ]
      },
      "axis": {
        "title": null,
        "tickCount": {"interval": "month", "step": 2},
        "labelExpr": "['Jan','Feb','Mrz','Apr','Mai','Jun','Jul','Aug','Sep','Okt','Nov','Dez'][utcmonth(datum.value)] + ' ' + utcFormat(datum.value, '%y')",
        "labelAngle": 270,
        "labelFontSize": 40,
        "labelPadding": 19,
        "labelOverlap": false,
        "tickSize": 12,
        "domain": false,
        "grid": true
      }
    },
    "color": {
      "field": "s",
      "type": "nominal",
      "scale": {
        "domain": ["Coal ARA 2023", "Rohöl (Brent) 2023", "CO2 2023"],
        "range": ["#000000", "#C00000", "#A6A6A6"]
      },
      "legend": {
        "orient": "none",
        "legendX": 60,
        "legendY": 79,
        "title": null,
        "padding": 0,
        "symbolOffset": 33,
        "labelExpr": "datum.label + '\u00a0\u00a0\u00a0\u200b'"
      }
    }
  },
  "layer": [
    {
      "transform": [{"filter": "datum.s == 'CO2 2023'"}],
      "mark": {"type": "line", "strokeWidth": 5},
      "encoding": {
        "y": {
          "field": "v",
          "type": "quantitative",
          "scale": {"domain": [10, 100], "nice": false, "zero": false},
          "axis": {
            "orient": "right",
            "title": "CO₂-Zertifikatspreis in €/t",
            "titleAngle": 90,
            "titleX": 143,
            "titleY": 509,
            "titleAlign": "center",
            "titleBaseline": "middle",
            "values": [10, 20, 30, 40, 50, 60, 70, 80, 90, 100],
            "tickColor": "#808080",
            "tickSize": 14,
            "labelPadding": 27,
            "grid": false,
            "domain": false
          }
        }
      }
    },
    {
      "transform": [{"filter": "datum.s != 'CO2 2023'"}],
      "mark": {"type": "line", "strokeWidth": 5},
      "encoding": {
        "y": {
          "field": "v",
          "type": "quantitative",
          "scale": {"domain": [30, 350], "nice": false, "zero": false},
          "axis": {
            "orient": "left",
            "title": ["Kohlepreis in $/t", "Rohölpreis (Brent) in $/barrel"],
            "titleLineHeight": 58,
            "titleAngle": 270,
            "titleX": -216,
            "titleY": 551,
            "titleAlign": "center",
            "titleBaseline": "middle",
            "values": [30, 60, 90, 120, 150, 180, 210, 240, 270, 300, 330],
            "labelFontSize": 42,
            "tickSize": 12,
            "labelPadding": 25,
            "grid": true,
            "domain": false
          }
        }
      }
    }
  ],
  "resolve": {"scale": {"y": "independent"}},
  "config": {
    "font": "Liberation Sans",
    "view": {"stroke": "black", "strokeWidth": 5},
    "axis": {
      "labelFont": "Liberation Sans",
      "labelFontSize": 40,
      "labelColor": "black",
      "titleFont": "Liberation Sans",
      "titleFontSize": 48,
      "titleFontWeight": "bold",
      "titleColor": "black",
      "tickColor": "black",
      "tickWidth": 2,
      "gridColor": "black",
      "gridWidth": 2,
      "gridOpacity": 1
    },
    "legend": {
      "labelFont": "Liberation Sans",
      "labelFontSize": 49,
      "labelColor": "black",
      "labelOffset": 42,
      "labelLimit": 800,
      "symbolType": "stroke",
      "symbolSize": 4900,
      "symbolStrokeWidth": 4,
      "rowPadding": 15,
      "strokeColor": "black",
      "strokeWidth": 3,
      "fillColor": "white"
    }
  }
}
